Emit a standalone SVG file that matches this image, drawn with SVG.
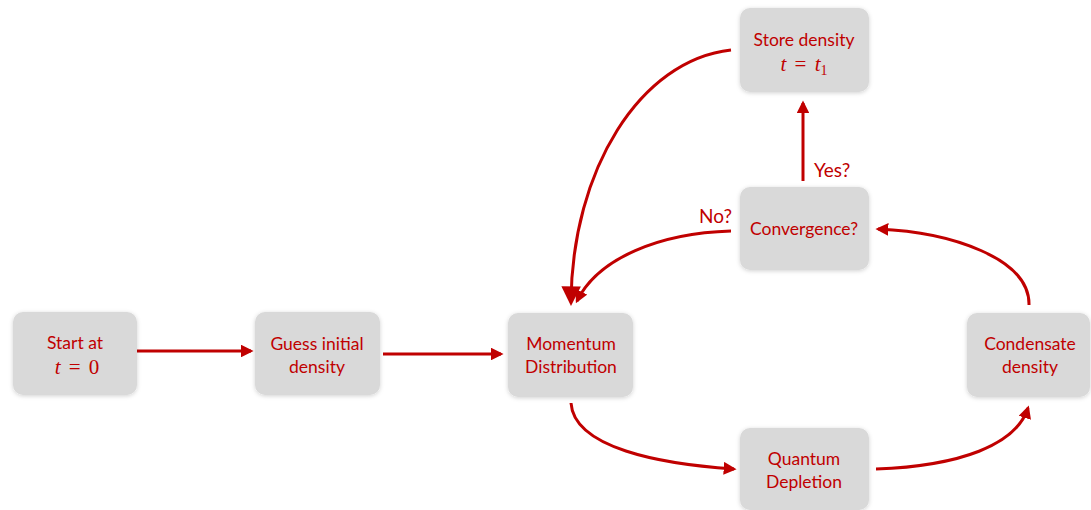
<svg xmlns="http://www.w3.org/2000/svg" width="1091" height="510" viewBox="0 0 1091 510">
<style>
.box{fill:#d9d9d9;filter:url(#sh)}
.t{font-family:Lato,"Open Sans","Liberation Sans",sans-serif;font-size:17.5px;fill:#c00000;text-anchor:middle}
.m{font-family:"Liberation Serif","DejaVu Serif",serif;font-size:21px;fill:#c00000;text-anchor:middle;word-spacing:3px}
.i{font-style:italic}
.c{fill:none;stroke:#c00000;stroke-width:3}
.lbl{font-family:Lato,"Open Sans","Liberation Sans",sans-serif;font-size:19px;fill:#c00000}
</style>
<defs>
<filter id="sh" x="-20%" y="-20%" width="140%" height="140%">
<feDropShadow dx="0" dy="1" stdDeviation="2" flood-color="#000" flood-opacity="0.18"/>
</filter>
<marker id="a" viewBox="0 0 10 10" refX="8" refY="5" markerWidth="4.3" markerHeight="4.3" orient="auto" markerUnits="strokeWidth">
<path d="M0,0 L10,5 L0,10 z" fill="#c00000"/>
</marker>
<marker id="b" viewBox="0 0 10 10" refX="8" refY="5" markerWidth="6.5" markerHeight="6.5" orient="auto" markerUnits="strokeWidth">
<path d="M0,0 L10,5 L0,10 z" fill="#c00000"/>
</marker>
</defs>
<g id="connectors">
<path class="c" d="M137,351 L251,351" marker-end="url(#a)"/>
<path class="c" d="M383,354 L501,354" marker-end="url(#a)"/>
<path class="c" d="M571,403 C574,448 660,464 734,469" marker-end="url(#a)"/>
<path class="c" d="M876,469 C960,466 1016,445 1028,408" marker-end="url(#a)"/>
<path class="c" d="M1029,305 C1030,258 950,232 878,229" marker-end="url(#a)"/>
<path class="c" d="M731,231 C660,233 598,258 577,301" marker-end="url(#a)"/>
<path class="c" d="M731,50 C640,60 572,170 571,302" marker-end="url(#b)"/>
<path class="c" d="M803,181 L803,103" marker-end="url(#a)"/>
</g>
<text class="lbl" x="814" y="177">Yes?</text>
<text class="lbl" x="699" y="223">No?</text>
<g id="start">
<rect class="box" x="13" y="312" width="124" height="83" rx="10"/>
<text class="t" x="75" y="349">Start at</text>
<text class="m" x="77" y="374"><tspan class="i">t</tspan> = 0</text>
</g>
<g id="guess">
<rect class="box" x="255" y="312" width="125" height="83" rx="10"/>
<text class="t" x="317" y="350">Guess initial</text>
<text class="t" x="317" y="373">density</text>
</g>
<g id="momentum">
<rect class="box" x="508" y="313" width="125" height="84" rx="10"/>
<text class="t" x="571" y="350">Momentum</text>
<text class="t" x="571" y="373">Distribution</text>
</g>
<g id="store">
<rect class="box" x="740" y="8" width="129" height="84" rx="10"/>
<text class="t" x="804" y="46">Store density</text>
<text class="m" x="804" y="71"><tspan class="i">t</tspan> = <tspan class="i">t</tspan><tspan font-size="14" dy="4">1</tspan></text>
</g>
<g id="convergence">
<rect class="box" x="740" y="187" width="129" height="83" rx="10"/>
<text class="t" x="804" y="235">Convergence?</text>
</g>
<g id="quantum">
<rect class="box" x="740" y="428" width="129" height="82" rx="10"/>
<text class="t" x="804" y="465">Quantum</text>
<text class="t" x="804" y="488">Depletion</text>
</g>
<g id="condensate">
<rect class="box" x="967" y="313" width="123" height="84" rx="10"/>
<text class="t" x="1030" y="350">Condensate</text>
<text class="t" x="1030" y="373">density</text>
</g>
</svg>
